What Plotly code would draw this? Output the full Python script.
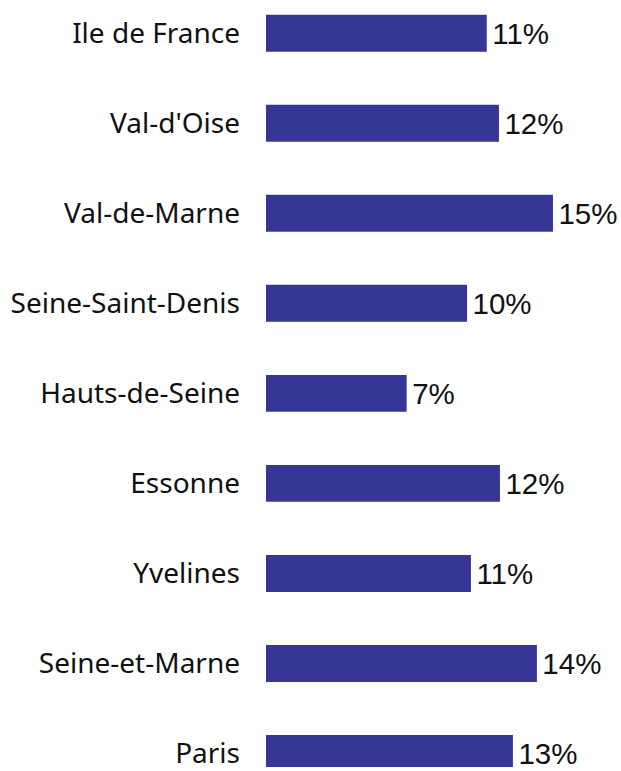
import plotly.graph_objects as go

# Categories listed bottom -> top
categories = ["Paris", "Seine-et-Marne", "Yvelines", "Essonne", "Hauts-de-Seine",
              "Seine-Saint-Denis", "Val-de-Marne", "Val-d'Oise", "Ile de France"]
values = [12.76, 14.0, 10.59, 12.09, 7.27, 10.39, 14.83, 12.04, 11.41]

BAR_COLOR = "#363697"
VALUE_FONT = dict(family="Liberation Sans, Arial, sans-serif", size=29.5, color="#111111")

fig = go.Figure(
    go.Bar(
        x=values,
        y=categories,
        orientation="h",
        marker=dict(color=BAR_COLOR, line=dict(width=0)),
        width=0.41,
        texttemplate="\u200a%{x:.0f}%",
        textposition="outside",
        constraintext="none",
        cliponaxis=False,
        textfont=VALUE_FONT,
        outsidetextfont=VALUE_FONT,
        hoverinfo="skip",
    )
)

fig.update_layout(
    width=621,
    height=771,
    margin=dict(l=266, r=0, t=0, b=0),
    paper_bgcolor="white",
    plot_bgcolor="white",
    showlegend=False,
)

fig.update_xaxes(range=[0, 355 / 19.35], visible=False, fixedrange=True)
fig.update_yaxes(
    type="category",
    categoryorder="array",
    categoryarray=categories,
    range=[-0.150, 8.369],
    showgrid=False,
    zeroline=False,
    showline=False,
    ticks="",
    ticklabelstandoff=25,
    tickfont=dict(family="Noto Sans, sans-serif", size=28, color="#111111"),
    fixedrange=True,
)

fig.write_html(
    "out.html",
    config={"displayModeBar": False},
    post_script="document.body.style.margin='0';document.body.style.overflow='hidden';",
)
